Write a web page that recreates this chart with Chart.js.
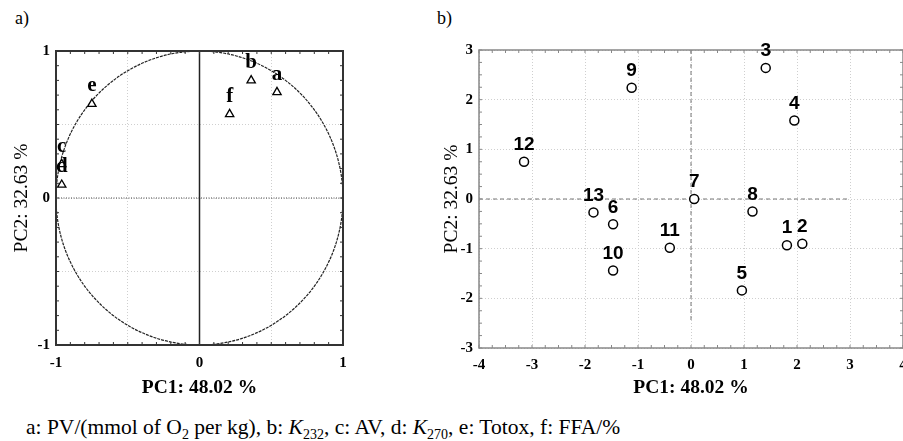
<!DOCTYPE html>
<html>
<head>
<meta charset="utf-8">
<script src="https://cdn.jsdelivr.net/npm/chart.js@4.4.1/dist/chart.umd.min.js"></script>
<style>
  html, body { margin: 0; padding: 0; background: #fff; overflow: hidden; }
  body { width: 903px; height: 441px; position: relative; font-family: 'Liberation Serif', 'Times New Roman', serif; color: #000; }
  canvas { position: absolute; top: 0; }
  #loadings { left: 0; }
  #scores { left: 440px; }
  .tag { position: absolute; top: 9px; font-size: 18px; line-height: 18px; }
  .caption { position: absolute; left: 26px; top: 417px; font-size: 21.5px; line-height: 21.5px; white-space: nowrap; }
  .caption sub { font-size: 14px; vertical-align: -5px; line-height: 0; }
</style>
</head>
<body>
<div class="tag" style="left:15px">a)</div>
<div class="tag" style="left:437px">b)</div>
<canvas id="loadings" width="440" height="400"></canvas>
<canvas id="scores" width="480" height="400"></canvas>
<div class="caption">a: PV/(mmol of O<sub>2</sub> per kg), b: <i>K</i><sub>232</sub>, c: AV, d: <i>K</i><sub>270</sub>, e: Totox, f: FFA/%</div>

<script>
// panel a) loadings
const loadingLabels = ['a', 'b', 'c', 'd', 'e', 'f'];
const loadingPC1 = [0.54, 0.36, -0.96, -0.96, -0.75, 0.21];
const loadingPC2 = [0.72, 0.80, 0.23, 0.09, 0.64, 0.57];
const loadingTicks = [-1, 0, 1];

// panel b) scores
const sampleLabels = ['1', '2', '3', '4', '5', '6', '7', '8', '9', '10', '11', '12', '13'];
const samplePC1 = [1.81, 2.10, 1.41, 1.95, 0.96, -1.47, 0.06, 1.16, -1.12, -1.47, -0.40, -3.15, -1.84];
const samplePC2 = [-0.93, -0.90, 2.64, 1.58, -1.84, -0.51, 0.00, -0.25, 2.24, -1.44, -0.98, 0.75, -0.27];
const scoreXTicks = [-4, -3, -2, -1, 0, 1, 2, 3, 4];
const scoreYTicks = [-3, -2, -1, 0, 1, 2, 3];
const scoreZeroX = [-4, 3];      // extent of the dashed PC2 = 0 line
const scoreZeroY = [-2.47, 3];   // extent of the dashed PC1 = 0 line

const SERIF = "'Liberation Serif', 'Times New Roman', serif";
const SANS = "'Liberation Sans', Arial, sans-serif";

const pointLabels = {
  id: 'pointLabels',
  afterDatasetsDraw(chart, args, opts) {
    const ctx = chart.ctx;
    ctx.save();
    ctx.font = opts.font;
    ctx.fillStyle = '#000';
    ctx.textAlign = 'center';
    ctx.textBaseline = 'middle';
    chart.getDatasetMeta(0).data.forEach((pt, i) => {
      ctx.fillText(opts.labels[i], pt.x, pt.y - opts.offset);
    });
    ctx.restore();
  },
};

// frame, inner minor ticks, zero lines and (optional) unit circle
const decorations = {
  id: 'decorations',
  beforeDatasetsDraw(chart, args, opts) {
    const { ctx, chartArea: a, scales: { x, y } } = chart;
    ctx.save();

    if (opts.circle) {
      const cx = x.getPixelForValue(0), cy = y.getPixelForValue(0);
      ctx.strokeStyle = '#222';
      ctx.lineWidth = 1.2;
      ctx.setLineDash([3, 1]);
      ctx.beginPath();
      ctx.ellipse(cx, cy, x.getPixelForValue(1) - cx, cy - y.getPixelForValue(1), 0, 0, Math.PI * 2);
      ctx.stroke();
    }

    const zl = opts.zero;
    ctx.strokeStyle = zl.color;
    ctx.lineWidth = 1;
    ctx.setLineDash(zl.hDash);
    ctx.beginPath();
    ctx.moveTo(x.getPixelForValue(zl.xRange[0]), y.getPixelForValue(0));
    ctx.lineTo(x.getPixelForValue(zl.xRange[1]), y.getPixelForValue(0));
    ctx.stroke();
    ctx.setLineDash(zl.vDash);
    ctx.strokeStyle = zl.vColor || zl.color;
    ctx.lineWidth = zl.vWidth || 1;
    ctx.beginPath();
    ctx.moveTo(x.getPixelForValue(0), y.getPixelForValue(zl.yRange[1]));
    ctx.lineTo(x.getPixelForValue(0), y.getPixelForValue(zl.yRange[0]));
    ctx.stroke();

    ctx.setLineDash([]);
    ctx.strokeStyle = opts.frameColor;
    ctx.lineWidth = 1;
    ctx.beginPath();
    for (let v = x.min; v <= x.max + 1e-9; v += opts.minor) {
      const px = x.getPixelForValue(v);
      ctx.moveTo(px, a.bottom); ctx.lineTo(px, a.bottom - 3);
      ctx.moveTo(px, a.top); ctx.lineTo(px, a.top + 3);
    }
    for (let v = y.min; v <= y.max + 1e-9; v += opts.minor) {
      const py = y.getPixelForValue(v);
      ctx.moveTo(a.left, py); ctx.lineTo(a.left + 3, py);
      ctx.moveTo(a.right, py); ctx.lineTo(a.right - 3, py);
    }
    ctx.stroke();

    ctx.lineWidth = opts.frameWidth;
    ctx.strokeRect(a.left, a.top, a.right - a.left, a.bottom - a.top);
    ctx.restore();
  },
};

function axis(min, max, step, shown, title, titleFont, titlePad, tickPad, fit) {
  return {
    type: 'linear',
    min, max,
    afterBuildTicks: s => { s.ticks = []; for (let v = min; v <= max + 1e-9; v += step) s.ticks.push({ value: +v.toFixed(2) }); },
    ticks: {
      autoSkip: false,
      maxRotation: 0,
      padding: tickPad,
      color: '#000',
      font: { family: SERIF, size: 15, weight: 'bold' },
      callback: v => shown.includes(v) ? String(v) : '',
    },
    grid: { color: '#cfcfcf', lineWidth: 1, drawTicks: false },
    border: { display: false, dash: [1, 2] },
    title: { display: true, text: title, color: '#000', font: titleFont, padding: titlePad },
    afterFit: fit,
  };
}

new Chart(document.getElementById('loadings'), {
  type: 'scatter',
  data: {
    datasets: [{
      data: loadingPC1.map((v, i) => ({ x: v, y: loadingPC2[i] })),
      pointStyle: 'triangle',
      pointRadius: 4.8,
      pointBackgroundColor: '#fff',
      pointBorderColor: '#000',
      pointBorderWidth: 1.3,
    }],
  },
  options: {
    responsive: false,
    animation: false,
    layout: { padding: { left: 0, top: 51, right: 97, bottom: 0 } },
    plugins: {
      legend: { display: false },
      tooltip: { enabled: false },
      pointLabels: { labels: loadingLabels, font: `bold 21px ${SERIF}`, offset: 18 },
      decorations: {
        circle: true,
        minor: 0.1,
        frameColor: '#333',
        frameWidth: 2,
        zero: { color: '#444', hDash: [1, 1.5], vDash: [], vColor: '#222', vWidth: 1.5, xRange: [-1, 1], yRange: [-1, 1] },
      },
    },
    scales: {
      x: axis(-1, 1, 0.5, loadingTicks, 'PC1: 48.02 %', { family: SERIF, size: 19.5, weight: 'bold' },
        { top: 0, bottom: 0 }, 9, s => { s.height = 55; s.paddingLeft = 0; s.paddingRight = 0; }),
      y: axis(-1, 1, 0.5, loadingTicks, 'PC2: 32.63 %', { family: SERIF, size: 19.5, weight: 'normal' },
        { top: 10, bottom: 0 }, 6, s => { s.width = 56; s.paddingTop = 0; s.paddingBottom = 0; }),
    },
  },
  plugins: [decorations, pointLabels],
});

new Chart(document.getElementById('scores'), {
  type: 'scatter',
  data: {
    datasets: [{
      data: samplePC1.map((v, i) => ({ x: v, y: samplePC2[i] })),
      pointStyle: 'circle',
      pointRadius: 4.5,
      pointBackgroundColor: '#fff',
      pointBorderColor: '#000',
      pointBorderWidth: 1.5,
    }],
  },
  options: {
    responsive: false,
    animation: false,
    layout: { padding: { left: 0, top: 50, right: 17, bottom: 0 } },
    plugins: {
      legend: { display: false },
      tooltip: { enabled: false },
      pointLabels: { labels: sampleLabels, font: `bold 19px ${SANS}`, offset: 17 },
      decorations: {
        circle: false,
        minor: 0.25,
        frameColor: '#888',
        frameWidth: 1.5,
        zero: { color: '#777', hDash: [4, 3], vDash: [4, 3], xRange: scoreZeroX, yRange: scoreZeroY },
      },
    },
    scales: {
      x: axis(-4, 4, 1, scoreXTicks, 'PC1: 48.02 %', { family: SERIF, size: 19.5, weight: 'bold' },
        { top: 0, bottom: 0 }, 8, s => { s.height = 52; s.paddingLeft = 0; s.paddingRight = 0; }),
      y: axis(-3, 3, 1, scoreYTicks, 'PC2: 32.63 %', { family: SERIF, size: 19.5, weight: 'normal' },
        { top: 0, bottom: 0 }, 6, s => { s.width = 39; s.paddingTop = 0; s.paddingBottom = 0; }),
    },
  },
  plugins: [decorations, pointLabels],
});
</script>
</body>
</html>
